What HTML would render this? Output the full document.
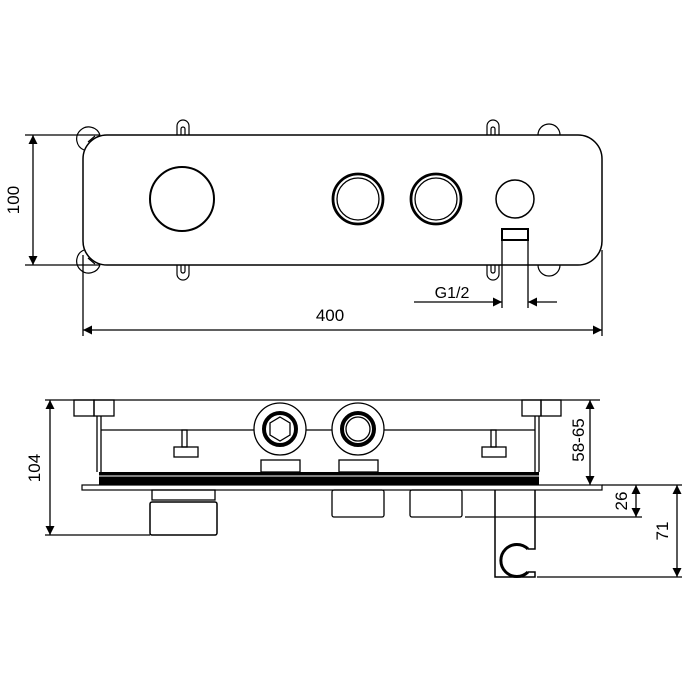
<!DOCTYPE html>
<html><head><style>html,body{margin:0;padding:0;background:#fff}svg{display:block}</style></head><body>
<svg width="700" height="700" viewBox="0 0 700 700" xmlns="http://www.w3.org/2000/svg" font-family="Liberation Sans, sans-serif" fill="none" stroke="#000" stroke-width="1.3">
<defs>
<marker id="a" viewBox="0 0 10 10" refX="10" refY="5" markerWidth="9" markerHeight="9" orient="auto-start-reverse" markerUnits="userSpaceOnUse"><path d="M0,0L10,5L0,10z" fill="#000" stroke="none"/></marker>
</defs>
<g stroke-width="1.2">
<path d="M177,135 V126 a6,6 0 0 1 12,0 V135"/><path d="M181,135 V129 a2,2 0 0 1 4,0 V135"/>
<path d="M177,265 V274 a6,6 0 0 0 12,0 V265"/><path d="M181,265 V271 a2,2 0 0 0 4,0 V265"/>
<path d="M487,135 V126 a6,6 0 0 1 12,0 V135"/><path d="M491,135 V129 a2,2 0 0 1 4,0 V135"/>
<path d="M487,265 V274 a6,6 0 0 0 12,0 V265"/><path d="M491,265 V271 a2,2 0 0 0 4,0 V265"/>
<path d="M100,135 A12,12 0 1 0 84,150"/><path d="M95,136 L88,142"/>
<path d="M100,265 A12,12 0 1 1 84,250"/><path d="M95,264 L88,258"/>
<path d="M538,135 A10,10 0 0 1 560,135"/>
<path d="M538,265 A10,10 0 0 0 560,265"/>
</g>
<rect x="83" y="135" width="519" height="130" rx="24" fill="#fff" stroke-width="1.5"/>
<circle cx="182" cy="199" r="32" stroke-width="2"/>
<circle cx="358" cy="199" r="25" stroke-width="2.8"/><circle cx="358" cy="199" r="21" stroke-width="1.3"/>
<circle cx="436" cy="199" r="25" stroke-width="2.8"/><circle cx="436" cy="199" r="21" stroke-width="1.3"/>
<circle cx="515" cy="199" r="19" stroke-width="1.5"/>
<rect x="502" y="229" width="26" height="11" stroke-width="2"/>
<line x1="502" y1="240" x2="502" y2="308"/><line x1="528" y1="240" x2="528" y2="308"/>
<line x1="414" y1="302" x2="502" y2="302" marker-end="url(#a)"/>
<line x1="557" y1="302" x2="528" y2="302" marker-end="url(#a)"/>
<text x="452" y="298" font-size="16" fill="#000" stroke="none" text-anchor="middle">G1/2</text>
<line x1="25" y1="135" x2="100" y2="135"/><line x1="25" y1="265" x2="100" y2="265"/>
<line x1="33" y1="135" x2="33" y2="265" marker-start="url(#a)" marker-end="url(#a)"/>
<text transform="translate(19,200) rotate(-90)" font-size="17" fill="#000" stroke="none" text-anchor="middle">100</text>
<line x1="83" y1="255" x2="83" y2="336"/><line x1="602" y1="250" x2="602" y2="336"/>
<line x1="83" y1="330" x2="602" y2="330" marker-start="url(#a)" marker-end="url(#a)"/>
<text x="330" y="321" font-size="17" fill="#000" stroke="none" text-anchor="middle">400</text>
<line x1="45" y1="400" x2="600" y2="400"/>
<rect x="74" y="400" width="20" height="16"/><rect x="94" y="400" width="20" height="16"/>
<rect x="522" y="400" width="19" height="16"/><rect x="541" y="400" width="20" height="16"/>
<line x1="97" y1="416" x2="97" y2="472"/><line x1="101" y1="416" x2="101" y2="472"/>
<line x1="535" y1="416" x2="535" y2="472"/><line x1="539" y1="416" x2="539" y2="472"/>
<line x1="101" y1="430" x2="254" y2="430"/><line x1="306" y1="430" x2="332" y2="430"/><line x1="384" y1="430" x2="535" y2="430"/>
<rect x="182" y="430" width="5" height="17"/><rect x="174" y="447" width="24" height="10"/>
<rect x="491" y="430" width="5" height="17"/><rect x="482" y="447" width="24" height="10"/>
<circle cx="280" cy="429" r="26"/><circle cx="280" cy="429" r="16" stroke-width="4"/>
<path d="M280,417 L290,423 L290,435 L280,441 L270,435 L270,423Z"/>
<circle cx="358" cy="429" r="26"/><circle cx="358" cy="429" r="16" stroke-width="4"/><circle cx="358" cy="429" r="12"/>
<rect x="261" y="460" width="39" height="12"/><rect x="339" y="460" width="39" height="12"/>
<rect x="99" y="472" width="440" height="13" fill="#000" stroke="none"/>
<line x1="99" y1="476" x2="539" y2="476" stroke="#fff" stroke-width="1"/>
<rect x="82" y="485" width="520" height="5" stroke-width="1.2"/>
<rect x="152" y="490" width="63" height="10"/>
<rect x="150" y="502" width="67" height="33" rx="2" stroke-width="1.5"/>
<rect x="332" y="490" width="52" height="27" rx="2"/>
<rect x="410" y="490" width="52" height="27" rx="2"/>
<path d="M495,490 V577 H535 V572 H528 M528,549 H535 V490" stroke-width="1.5"/>
<path d="M528,549 A16,16 0 1 0 528,572" stroke-width="3"/>
<line x1="45" y1="535" x2="150" y2="535"/>
<line x1="50" y1="400" x2="50" y2="535" marker-start="url(#a)" marker-end="url(#a)"/>
<text transform="translate(40,468) rotate(-90)" font-size="17" fill="#000" stroke="none" text-anchor="middle">104</text>
<line x1="590" y1="400" x2="590" y2="485" marker-start="url(#a)" marker-end="url(#a)"/>
<text transform="translate(584,440) rotate(-90)" font-size="17" fill="#000" stroke="none" text-anchor="middle">58-65</text>
<line x1="602" y1="485" x2="682" y2="485"/>
<line x1="465" y1="517" x2="642" y2="517"/>
<line x1="537" y1="577" x2="682" y2="577"/>
<line x1="636" y1="485" x2="636" y2="517" marker-start="url(#a)" marker-end="url(#a)"/>
<text transform="translate(627,501) rotate(-90)" font-size="17" fill="#000" stroke="none" text-anchor="middle">26</text>
<line x1="677" y1="485" x2="677" y2="577" marker-start="url(#a)" marker-end="url(#a)"/>
<text transform="translate(668,531) rotate(-90)" font-size="17" fill="#000" stroke="none" text-anchor="middle">71</text>
</svg>
</body></html>
